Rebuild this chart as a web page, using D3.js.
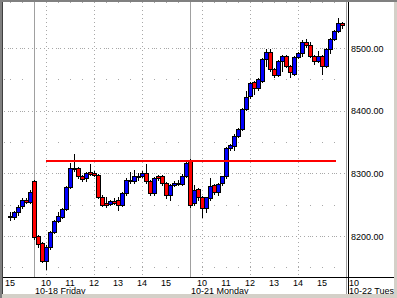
<!DOCTYPE html>
<html>
<head>
<meta charset="utf-8">
<script src="https://d3js.org/d3.v7.min.js"></script>
<style>
body { margin: 0; background: #fff; overflow: hidden; }
svg { display: block; font-family: "Liberation Sans", Arial, sans-serif; font-size: 9px; }
</style>
</head>
<body>
<svg></svg>
<script>
let width = 397,
    height = 298;

// 10 minute bars: [open, high, low, close]
let prevDay = [
    [8231, 8238, 8226, 8232], [8230, 8240, 8227, 8238], [8238, 8250, 8234, 8247],
    [8248, 8260, 8245, 8257], [8257, 8261, 8252, 8254], [8254, 8274, 8252, 8271]
];
let friday = [
    [8288, 8290, 8196, 8198], [8200, 8202, 8183, 8188], [8189, 8191, 8158, 8160],
    [8160, 8185, 8147, 8183], [8182, 8208, 8180, 8206], [8206, 8226, 8204, 8224],
    [8224, 8238, 8222, 8232], [8231, 8245, 8228, 8243], [8243, 8280, 8241, 8278],
    [8278, 8316, 8276, 8308], [8307, 8331, 8304, 8309], [8308, 8310, 8293, 8295],
    [8295, 8298, 8287, 8291], [8292, 8302, 8287, 8300], [8302, 8315, 8297, 8299],
    [8301, 8303, 8295, 8297], [8297, 8299, 8261, 8263], [8263, 8265, 8248, 8250],
    [8252, 8263, 8246, 8250], [8251, 8258, 8249, 8256], [8256, 8260, 8251, 8253],
    [8258, 8262, 8242, 8250], [8250, 8270, 8248, 8268], [8268, 8292, 8266, 8290],
    [8290, 8302, 8284, 8287], [8287, 8305, 8285, 8295], [8294, 8300, 8290, 8296],
    [8296, 8303, 8294, 8300], [8300, 8315, 8285, 8287], [8287, 8289, 8266, 8268],
    [8268, 8294, 8266, 8292], [8296, 8298, 8290, 8292], [8296, 8298, 8282, 8284],
    [8284, 8286, 8260, 8265], [8265, 8283, 8258, 8281], [8281, 8287, 8279, 8285],
    [8285, 8290, 8281, 8283], [8283, 8299, 8281, 8296], [8296, 8320, 8294, 8316]
];
let monday = [
    [8321, 8323, 8247, 8250], [8252, 8281, 8250, 8274], [8275, 8277, 8258, 8262],
    [8262, 8264, 8230, 8245], [8245, 8262, 8238, 8262], [8261, 8293, 8257, 8280],
    [8281, 8283, 8267, 8270], [8270, 8284, 8266, 8283], [8284, 8296, 8282, 8295],
    [8295, 8342, 8293, 8340], [8340, 8347, 8337, 8345], [8344, 8362, 8337, 8360],
    [8360, 8373, 8358, 8371], [8371, 8404, 8369, 8402], [8403, 8432, 8401, 8422],
    [8423, 8446, 8420, 8444], [8446, 8448, 8426, 8436], [8436, 8452, 8433, 8450],
    [8448, 8484, 8446, 8482], [8482, 8498, 8472, 8493], [8493, 8498, 8464, 8466],
    [8466, 8468, 8454, 8457], [8457, 8481, 8456, 8479], [8479, 8489, 8463, 8487],
    [8487, 8489, 8469, 8471], [8471, 8473, 8454, 8461], [8459, 8488, 8457, 8486],
    [8486, 8494, 8484, 8492], [8492, 8512, 8488, 8510], [8510, 8514, 8502, 8504],
    [8505, 8510, 8485, 8487], [8487, 8489, 8475, 8480], [8480, 8495, 8478, 8487],
    [8487, 8489, 8459, 8472], [8472, 8500, 8470, 8498], [8498, 8516, 8492, 8514],
    [8514, 8529, 8512, 8527], [8527, 8548, 8525, 8540], [8540, 8542, 8532, 8536]
];

let sessions = [prevDay, friday, monday, []];
let sessionStart = [900, 570, 570, 570];   // minutes after midnight of first bar
let dayLabels = ["", "10-18 Friday", "10-21 Monday", "10-22 Tuesday"];
let hourTicks = [10, 11, 12, 13, 14, 15];
let priceTicks = [8200, 8300, 8400, 8500];
let halfTicks = [8150, 8250, 8350, 8450];
let level = { price: 8321, from: [1, 600], to: [2, 935] };

let svg = d3.select("svg")
    .attr("width", width)
    .attr("height", height);

// bar index of every session start
let offsets = [0];
for (let i = 1; i < sessions.length; i++) {
    offsets.push(offsets[i - 1] + sessions[i - 1].length);
}
let bars = [];
sessions.forEach(s => s.forEach(d => bars.push(d)));

function barIndex(s, minutes) {
    return offsets[s] + (minutes - sessionStart[s]) / 10;
}

let plotLeft = 3, plotRight = 346, plotTop = 2, plotBottom = 277;

let x = d3.scaleLinear().domain([0, bars.length - 1]).range([10, 342]);
let y = d3.scaleLinear().domain([8200, 8500]).range([236, 48]);
let px = v => Math.round(v) + 0.5;

let grid = svg.append("g");

// major horizontal grid
grid.selectAll(".hgrid")
    .data(priceTicks)
    .enter().append("line")
    .attr("x1", plotLeft + 1).attr("x2", plotRight)
    .attr("y1", d => px(y(d))).attr("y2", d => px(y(d)))
    .attr("stroke", "#a8a8a8")
    .attr("stroke-dasharray", "1,3");

// vertical grid: even hours dotted, odd hours / half hours as dots
let majorX = [], minorX = [];
for (let s = 0; s < 3; s++) {
    for (let m = Math.max(sessionStart[s], 600); m < 960; m += 30) {
        let i = barIndex(s, m);
        if (i < offsets[s] || i > offsets[s] + sessions[s].length) continue;
        if (m % 120 === 0) majorX.push(i); else minorX.push(i);
    }
}
minorX.unshift(barIndex(0, 900));

grid.selectAll(".vgrid")
    .data(majorX)
    .enter().append("line")
    .attr("x1", d => px(x(d))).attr("x2", d => px(x(d)))
    .attr("y1", plotTop).attr("y2", plotBottom)
    .attr("stroke", "#a8a8a8")
    .attr("stroke-dasharray", "1,3");

let dotRows = [plotTop].concat(priceTicks.concat(halfTicks).map(d => Math.round(y(d))));
let dots = [];
minorX.forEach(i => dotRows.forEach(r => dots.push([Math.round(x(i)), r])));
halfTicks.forEach(p => {
    dots.push([plotLeft + 1, Math.round(y(p))]);
    majorX.forEach(i => dots.push([Math.round(x(i)), Math.round(y(p))]));
});
grid.selectAll(".dot")
    .data(dots)
    .enter().append("rect")
    .attr("x", d => d[0]).attr("y", d => d[1])
    .attr("width", 1).attr("height", 1)
    .attr("fill", "#a8a8a8");

// day separators
svg.selectAll(".sep")
    .data(offsets.slice(1))
    .enter().append("line")
    .attr("x1", d => px(x(d))).attr("x2", d => px(x(d)))
    .attr("y1", plotTop)
    .attr("y2", (d, i) => i === 2 ? 294 : plotBottom)
    .attr("stroke", "#a0a0a0");

// candles
let candles = svg.append("g")
    .selectAll("g")
    .data(bars)
    .enter().append("g");

candles.append("line")
    .attr("x1", (d, i) => px(x(i))).attr("x2", (d, i) => px(x(i)))
    .attr("y1", d => Math.round(y(d[1])))
    .attr("y2", d => Math.round(y(d[2])) + 1)
    .attr("stroke", "#000");

candles.append("rect")
    .attr("x", (d, i) => Math.round(x(i)) - 1.5)
    .attr("y", d => Math.round(y(Math.max(d[0], d[3]))) + 0.5)
    .attr("width", 4)
    .attr("height", d => Math.max(1, Math.round(y(Math.min(d[0], d[3]))) - Math.round(y(Math.max(d[0], d[3])))))
    .attr("fill", d => d[3] >= d[0] ? "#0000ff" : "#ff0000")
    .attr("stroke", "#000");

// resistance line
svg.append("line")
    .attr("x1", x(barIndex(level.from[0], level.from[1])))
    .attr("x2", x(barIndex(level.to[0], level.to[1])))
    .attr("y1", Math.round(y(level.price)) + 1)
    .attr("y2", Math.round(y(level.price)) + 1)
    .attr("stroke", "#ff0000")
    .attr("stroke-width", 2);

// axes lines
svg.append("line")
    .attr("x1", 348.5).attr("x2", 348.5)
    .attr("y1", 0).attr("y2", 294)
    .attr("stroke", "#000");
svg.append("line")
    .attr("x1", plotLeft).attr("x2", width)
    .attr("y1", plotBottom + 0.5).attr("y2", plotBottom + 0.5)
    .attr("stroke", "#000");

// price labels
svg.selectAll(".plabel")
    .data(priceTicks)
    .enter().append("text")
    .attr("x", 351)
    .attr("y", d => y(d) + 3.5)
    .attr("fill", "#000")
    .text(d3.format(".2f"));

// hour labels
let hourLabels = [{ i: barIndex(0, 900), t: "15" }];
for (let s = 1; s < 3; s++) {
    hourTicks.forEach(h => hourLabels.push({ i: barIndex(s, h * 60), t: String(h) }));
}
svg.selectAll(".hlabel")
    .data(hourLabels)
    .enter().append("text")
    .attr("x", d => x(d.i))
    .attr("y", 286)
    .attr("text-anchor", "middle")
    .text(d => d.t);

svg.append("text")
    .attr("x", x(offsets[3]) + 3)
    .attr("y", 286)
    .text("10");

svg.selectAll(".dlabel")
    .data(dayLabels.slice(1))
    .enter().append("text")
    .attr("x", (d, i) => x(offsets[i + 1]) + (i === 2 ? 3 : 1))
    .attr("y", 293.5)
    .text(d => d);

// window frame
svg.append("rect").attr("x", 0).attr("y", 294).attr("width", width).attr("height", 4).attr("fill", "#d4d0c8");
svg.append("rect").attr("x", 394).attr("y", 0).attr("width", 3).attr("height", height).attr("fill", "#d4d0c8");
svg.append("rect").attr("x", 0).attr("y", 0).attr("width", width).attr("height", 2).attr("fill", "#808080");
svg.append("rect").attr("x", 0).attr("y", 0).attr("width", 2).attr("height", height).attr("fill", "#808080");
svg.append("line").attr("x1", 2.5).attr("x2", 2.5).attr("y1", 2).attr("y2", 294).attr("stroke", "#404040");
</script>
</body>
</html>
